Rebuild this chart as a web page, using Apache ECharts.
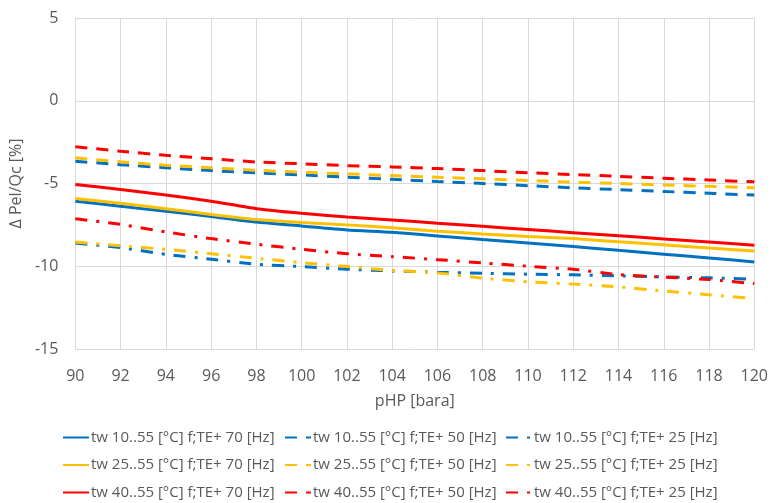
<!DOCTYPE html>
<html>
<head>
<meta charset="utf-8">
<script src="https://cdn.jsdelivr.net/npm/echarts@6/dist/echarts.min.js"></script>
<style>
html,body{margin:0;padding:0;background:#fff;}
#chart{width:771px;height:503px;}
</style>
</head>
<body>
<div id="chart"></div>
<script>
// pHP [bara]
const xValues = [90, 92, 94, 96, 98, 100, 102, 104, 106, 108, 110, 112, 114, 116, 118, 120];

// tw 10..55 [°C]
const tw10_70 = [-6.07, -6.37, -6.67, -7.0, -7.33, -7.57, -7.81, -7.95, -8.17, -8.39, -8.6, -8.81, -9.04, -9.27, -9.5, -9.74];
const tw10_50 = [-3.66, -3.86, -4.05, -4.22, -4.36, -4.48, -4.62, -4.75, -4.88, -5.0, -5.13, -5.26, -5.37, -5.48, -5.59, -5.7];
const tw10_25 = [-8.6, -8.87, -9.28, -9.58, -9.88, -10.02, -10.18, -10.28, -10.36, -10.42, -10.48, -10.52, -10.58, -10.64, -10.7, -10.78];
// tw 25..55 [°C]
const tw25_70 = [-5.9, -6.2, -6.52, -6.87, -7.17, -7.35, -7.5, -7.68, -7.88, -8.05, -8.2, -8.33, -8.52, -8.7, -8.9, -9.08];
const tw25_50 = [-3.45, -3.69, -3.9, -4.05, -4.2, -4.32, -4.42, -4.52, -4.62, -4.72, -4.82, -4.92, -5.0, -5.09, -5.17, -5.26];
const tw25_25 = [-8.53, -8.77, -8.98, -9.24, -9.52, -9.78, -10.02, -10.25, -10.4, -10.72, -10.94, -11.08, -11.25, -11.5, -11.72, -11.95];
// tw 40..55 [°C]
const tw40_70 = [-5.06, -5.36, -5.7, -6.07, -6.52, -6.8, -7.03, -7.2, -7.4, -7.59, -7.78, -7.97, -8.16, -8.35, -8.54, -8.73];
const tw40_50 = [-2.78, -3.05, -3.3, -3.5, -3.7, -3.81, -3.92, -4.0, -4.1, -4.22, -4.35, -4.46, -4.57, -4.68, -4.79, -4.9];
const tw40_25 = [-7.13, -7.47, -7.93, -8.33, -8.67, -8.98, -9.24, -9.42, -9.6, -9.8, -10.0, -10.18, -10.5, -10.66, -10.8, -11.05];

const names = [
  ['tw 10..55 [°C] f;TE+ 70 [Hz]', 'tw 10..55 [°C] f;TE+ 50 [Hz]', 'tw 10..55 [°C] f;TE+ 25 [Hz]'],
  ['tw 25..55 [°C] f;TE+ 70 [Hz]', 'tw 25..55 [°C] f;TE+ 50 [Hz]', 'tw 25..55 [°C] f;TE+ 25 [Hz]'],
  ['tw 40..55 [°C] f;TE+ 70 [Hz]', 'tw 40..55 [°C] f;TE+ 50 [Hz]', 'tw 40..55 [°C] f;TE+ 25 [Hz]']
];
const dataRows = [
  [tw10_70, tw10_50, tw10_25],
  [tw25_70, tw25_50, tw25_25],
  [tw40_70, tw40_50, tw40_25]
];
const colors = ['#0070C0', '#FFC000', '#FF0000'];
const dashes = ['solid', [12, 9], [12, 9, 3, 9]];

const FONT = 'Open Sans';
const GRAY = '#595959';

const series = [];
for (let r = 0; r < 3; r++) {
  for (let c = 0; c < 3; c++) {
    series.push({
      name: names[r][c],
      type: 'line',
      data: xValues.map((x, i) => [x, dataRows[r][c][i]]),
      showSymbol: false,
      symbol: 'none',
      smooth: 0.2,
      color: colors[r],
      lineStyle: { color: colors[r], width: 3, type: dashes[c] },
      z: 2
    });
  }
}

const colLeft = [62, 284, 505];
const legends = [];
for (let r = 0; r < 3; r++) {
  for (let c = 0; c < 3; c++) {
    legends.push({
      data: [names[r][c]],
      left: colLeft[c],
      top: 430 + r * 27.5,
      orient: 'horizontal',
      itemWidth: 26,
      itemHeight: 14,
      padding: 0,
      itemStyle: { opacity: 0 },
      textStyle: { fontFamily: FONT, fontSize: 15, color: GRAY, padding: [0, 0, 0, -3] },
      selectedMode: false
    });
  }
}

const chart = echarts.init(document.getElementById('chart'), null, { renderer: 'canvas' });
chart.setOption({
  animation: false,
  backgroundColor: '#ffffff',
  grid: { left: 73, right: 16, top: 18, bottom: 154, containLabel: false },
  xAxis: {
    type: 'value',
    min: 90, max: 120, interval: 2,
    name: 'pHP [bara]',
    nameLocation: 'middle',
    nameGap: 44,
    nameTextStyle: { fontFamily: FONT, fontSize: 16, color: GRAY },
    axisLine: { show: true, lineStyle: { color: '#d9d9d9', width: 1 } },
    axisTick: { show: false },
    axisLabel: { fontFamily: FONT, fontSize: 16, color: GRAY, margin: 19 },
    splitLine: { show: true, lineStyle: { color: '#d9d9d9', width: 1 } }
  },
  yAxis: {
    type: 'value',
    min: -15, max: 5, interval: 5,
    name: 'Δ Pel/Qc [%]',
    nameLocation: 'middle',
    nameGap: 47,
    nameRotate: 90,
    nameTextStyle: { fontFamily: FONT, fontSize: 16, color: GRAY },
    axisLine: { show: true, lineStyle: { color: '#d9d9d9', width: 1 } },
    axisTick: { show: false },
    axisLabel: { fontFamily: FONT, fontSize: 16, color: GRAY, margin: 17 },
    splitLine: { show: true, lineStyle: { color: '#d9d9d9', width: 1 } }
  },
  legend: legends,
  series: series
});
</script>
</body>
</html>
